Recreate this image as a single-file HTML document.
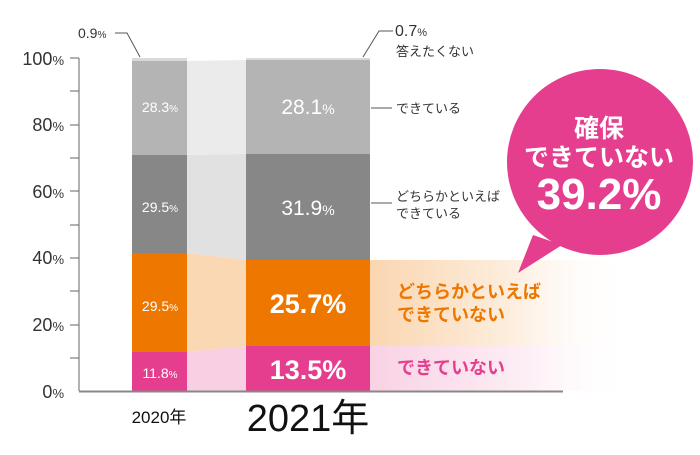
<!DOCTYPE html>
<html><head><meta charset="utf-8"><style>
body{margin:0;background:#fff;}
svg text{font-family:"Liberation Sans","Noto Sans CJK JP",sans-serif;}
</style></head><body>
<svg width="700" height="450" viewBox="0 0 700 450" xmlns="http://www.w3.org/2000/svg">
<defs>
<linearGradient id="go" x1="0" x2="1" y1="0" y2="0">
<stop offset="0" stop-color="#fad6b0"/><stop offset="0.55" stop-color="#fdeedf"/><stop offset="1" stop-color="#fff" stop-opacity="0"/></linearGradient>
<linearGradient id="gp" x1="0" x2="1" y1="0" y2="0">
<stop offset="0" stop-color="#f9d2e4"/><stop offset="0.6" stop-color="#fdeef5"/><stop offset="1" stop-color="#fff" stop-opacity="0"/></linearGradient>
</defs>
<polygon points="187,61 246,60 246,154 187,155" fill="#ebebeb"/>
<polygon points="187,155 246,154 246,260 187,253" fill="#e1e1e1"/>
<polygon points="187,253 246,260 246,346 187,352" fill="#fad8b3"/>
<polygon points="187,352 246,346 246,391 187,391" fill="#f9d0e3"/>
<rect x="370" y="260" width="260" height="86" fill="url(#go)"/>
<rect x="370" y="346" width="260" height="45" fill="url(#gp)"/>
<rect x="132" y="58" width="55" height="3" fill="#d9d9d9"/>
<rect x="132" y="61" width="55" height="94" fill="#b4b4b4"/>
<rect x="132" y="155" width="55" height="98" fill="#878787"/>
<rect x="132" y="253" width="55" height="99" fill="#ee7700"/>
<rect x="132" y="352" width="55" height="39" fill="#e63e8f"/>
<rect x="246" y="58" width="124" height="2" fill="#d9d9d9"/>
<rect x="246" y="60" width="124" height="94" fill="#b4b4b4"/>
<rect x="246" y="154" width="124" height="106" fill="#878787"/>
<rect x="246" y="260" width="124" height="86" fill="#ee7700"/>
<rect x="246" y="346" width="124" height="45" fill="#e63e8f"/>
<g stroke="#666" stroke-width="1">
<line x1="79" y1="58" x2="79" y2="391"/>
<line x1="79" y1="391.5" x2="563" y2="391.5" stroke="#888" stroke-width="2"/>
<line x1="70" y1="58" x2="79" y2="58"/><line x1="70" y1="91" x2="79" y2="91"/>
<line x1="70" y1="125" x2="79" y2="125"/><line x1="70" y1="158" x2="79" y2="158"/>
<line x1="70" y1="191" x2="79" y2="191"/><line x1="70" y1="225" x2="79" y2="225"/>
<line x1="70" y1="258" x2="79" y2="258"/><line x1="70" y1="291" x2="79" y2="291"/>
<line x1="70" y1="325" x2="79" y2="325"/><line x1="70" y1="358" x2="79" y2="358"/>
</g>
<g font-size="18" fill="#333" text-anchor="end">
<text x="64" y="65">100<tspan font-size="13">%</tspan></text>
<text x="64" y="131">80<tspan font-size="13">%</tspan></text>
<text x="64" y="198">60<tspan font-size="13">%</tspan></text>
<text x="64" y="264">40<tspan font-size="13">%</tspan></text>
<text x="64" y="331">20<tspan font-size="13">%</tspan></text>
<text x="64" y="398">0<tspan font-size="13">%</tspan></text>
</g>
<g fill="#fff" text-anchor="middle">
<text x="160" y="112" font-size="14">28.3<tspan font-size="10">%</tspan></text>
<text x="160" y="212" font-size="14">29.5<tspan font-size="10">%</tspan></text>
<text x="160" y="311" font-size="14">29.5<tspan font-size="10">%</tspan></text>
<text x="160" y="378" font-size="14">11.8<tspan font-size="10">%</tspan></text>
<text x="308" y="114" font-size="21">28.1<tspan font-size="14">%</tspan></text>
<text x="308" y="215" font-size="21">31.9<tspan font-size="14">%</tspan></text>
<text x="308" y="313" font-size="27" font-weight="bold">25.7%</text>
<text x="308" y="379" font-size="27" font-weight="bold">13.5%</text>
</g>
<text x="159" y="423" font-size="17" fill="#111" text-anchor="middle">2020年</text>
<text x="308" y="431" font-size="38" fill="#111" text-anchor="middle">2021年</text>
<g stroke="#555" stroke-width="1" fill="none">
<polyline points="115,33 127,33 140,57"/>
<polyline points="363,57 379,31 393,31"/>
<line x1="371" y1="108" x2="392" y2="108"/>
<line x1="371" y1="203" x2="392" y2="203"/>
</g>
<text x="78" y="38" font-size="14" fill="#333">0.9<tspan font-size="10">%</tspan></text>
<text x="395" y="36" font-size="16" fill="#333">0.7<tspan font-size="11">%</tspan></text>
<text x="396" y="56" font-size="13" fill="#333">答えたくない</text>
<text x="396" y="113" font-size="13" fill="#333">できている</text>
<text x="396" y="201" font-size="13" fill="#333">どちらかといえば</text>
<text x="396" y="218" font-size="13" fill="#333">できている</text>
<text x="397" y="298" font-size="18" font-weight="bold" fill="#ee7700">どちらかといえば</text>
<text x="397" y="321" font-size="18" font-weight="bold" fill="#ee7700">できていない</text>
<text x="397" y="374" font-size="18" font-weight="bold" fill="#e63e8f">できていない</text>
<polygon points="533,235 518,273 562,245" fill="#e63e8f"/>
<circle cx="600" cy="162" r="93" fill="#e63e8f"/>
<g fill="#fff" font-weight="bold" text-anchor="middle">
<text x="599" y="137" font-size="25">確保</text>
<text x="599" y="166" font-size="25">できていない</text>
<text x="599" y="209" font-size="44">39.2%</text>
</g>
</svg>
</body></html>
